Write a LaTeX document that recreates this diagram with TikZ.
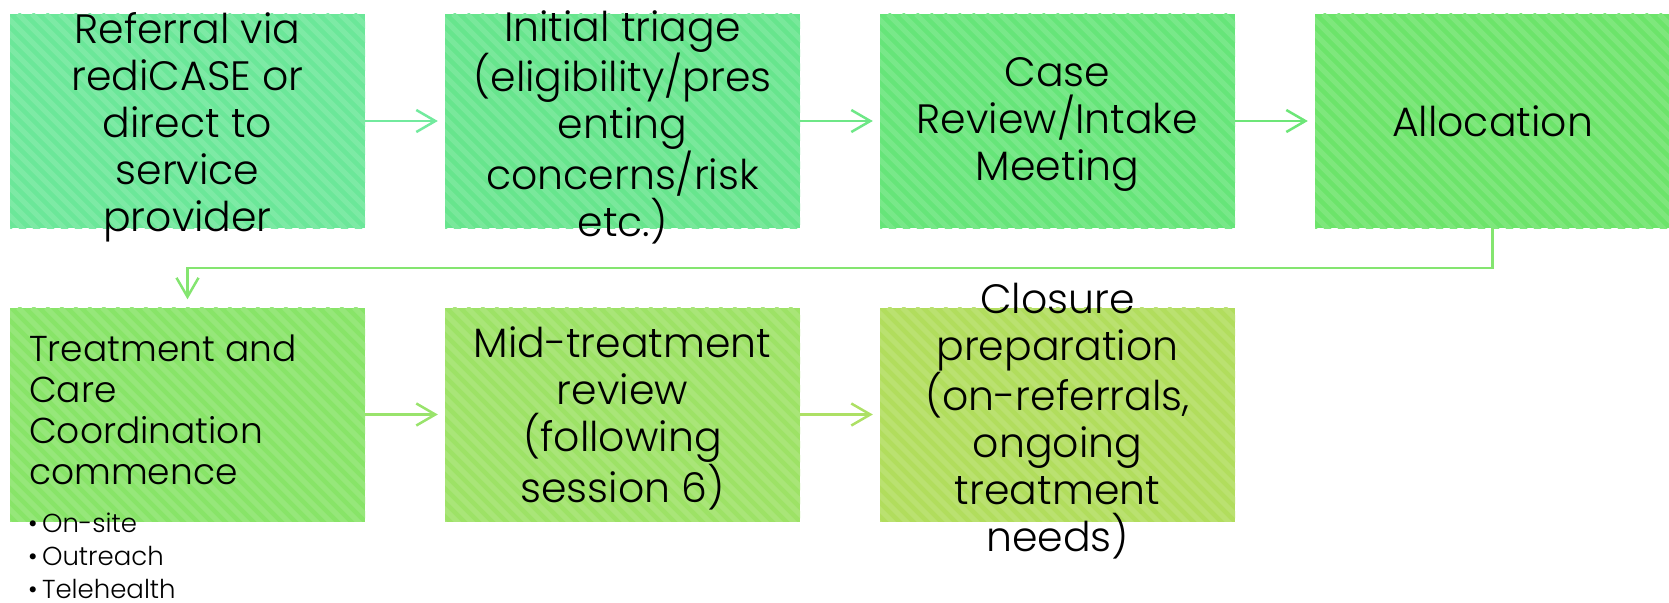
\documentclass[tikz,border=0pt]{standalone}
\usepackage{fontspec}
\setmainfont{Poppins Light}
\usetikzlibrary{arrows.meta}

% stage fills, from teal-green to yellow-green
\definecolor{fillA}{HTML}{6BE799}
\definecolor{fillB}{HTML}{67E58D}
\definecolor{fillC}{HTML}{66E579}
\definecolor{fillD}{HTML}{6CE46A}
\definecolor{fillE}{HTML}{88E468}
\definecolor{fillF}{HTML}{9DE266}
\definecolor{fillG}{HTML}{B1DD5D}
% connector colours
\definecolor{lineA}{HTML}{72EA9E}
\definecolor{lineB}{HTML}{6EE787}
\definecolor{lineC}{HTML}{6DE678}
\definecolor{lineD}{HTML}{84E570}
\definecolor{lineE}{HTML}{99E36C}
\definecolor{lineF}{HTML}{ADE065}

\begin{document}
\begin{tikzpicture}[x=1pt,y=-1pt,
  % a flat box with light diagonal stripes running down to the right
  stage/.style={rectangle, draw=none, fill=#1, inner sep=0pt,
    minimum width=355pt, minimum height=214pt,
    path picture={
      \foreach \k in {0,...,42}{
        \draw[#1!88!white, line width=5pt]
          ([xshift={\k*14pt-230pt}]path picture bounding box.north west) -- ++(250,250);
      }}},
  label/.style={align=center, inner sep=0pt, font=\fontsize{41}{47}\selectfont},
  flow/.style={draw=#1, line width=2.5pt,
    -{Straight Barb[length=19pt,width=22pt]}, shorten >=7pt},
]
\useasboundingbox (0,0) rectangle (1669,602);

% first row
\node[stage=fillA] (s1) at (187.5,121) {};
\node[stage=fillB] (s2) at (622.5,121) {};
\node[stage=fillC] (s3) at (1057.5,121) {};
\node[stage=fillD] (s4) at (1492.5,121) {};
% second row
\node[stage=fillE] (s5) at (187.5,414.5) {};
\node[stage=fillF] (s6) at (622.5,414.5) {};
\node[stage=fillG] (s7) at (1057.5,414.5) {};

% stage texts
\node[label, yshift=-6pt] (t1) at (s1.center) {Referral via\\rediCASE or\\direct to\\service\\provider};
\node[label, yshift=-6pt] (t2) at (s2.center) {Initial triage\\(eligibility/pres\\enting\\concerns/risk\\etc.)};
\node[label, yshift=-3pt] (t3) at (s3.center) {Case\\Review/Intake\\Meeting};
\node[label] (t4) at (s4.center) {Allocation};
\node[label, anchor=north west, align=left, font=\fontsize{36}{41}\selectfont]
  (t5) at (29,335) {Treatment and\\Care\\Coordination\\commence};
\node[label, anchor=north west, align=left, font=\fontsize{26}{33}\selectfont]
  (t5b) at (28,513) {•\,On-site\\•\,Outreach\\•\,Telehealth};
\node[label, yshift=-4pt] (t6) at (s6.center) {Mid-treatment\\review\\(following\\session 6)};
\node[label, yshift=-7pt] (t7) at (s7.center) {Closure\\preparation\\(on-referrals,\\ongoing\\treatment\\needs)};

% connectors
\draw[flow=lineA] (s1.east) -- (s2.west);
\draw[flow=lineB] (s2.east) -- (s3.west);
\draw[flow=lineC] (s3.east) -- (s4.west);
\draw[flow=lineD, shorten >=8pt] (s4.south) -- ++(0,40) -| (s5.north);
\draw[flow=lineE] (s5.east) -- (s6.west);
\draw[flow=lineF] (s6.east) -- (s7.west);
\end{tikzpicture}
\end{document}
